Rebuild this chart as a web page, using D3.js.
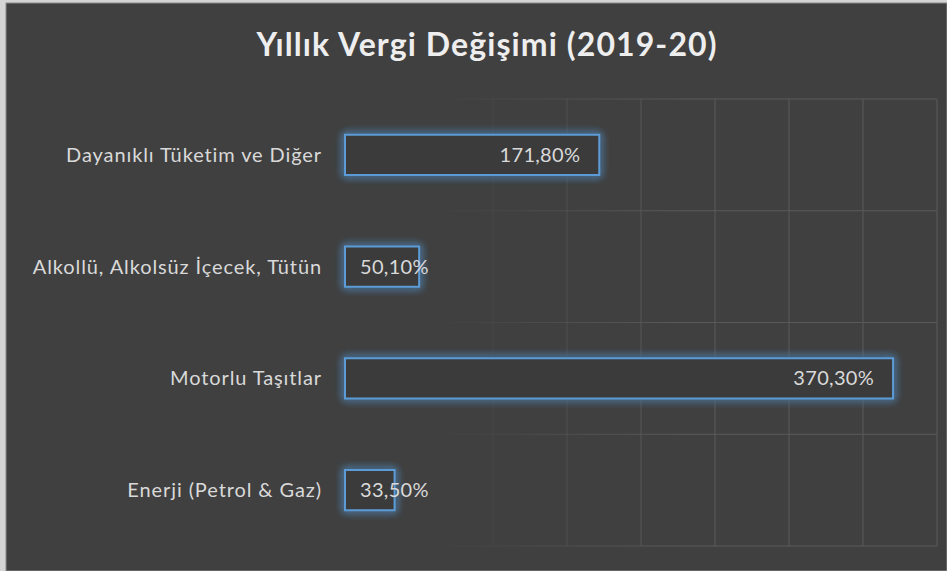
<!DOCTYPE html>
<html>
<head>
<meta charset="utf-8">
<script src="https://cdn.jsdelivr.net/npm/d3@7"></script>
<style>
  body { margin: 0; background: #d4d4d4; }
  svg { display: block; }
</style>
</head>
<body>
<script>
// veriler
const kategoriler = ["Dayanıklı Tüketim ve Diğer", "Alkollü, Alkolsüz İçecek, Tütün", "Motorlu Taşıtlar", "Enerji (Petrol & Gaz)"];
const degerler = [171.8, 50.1, 370.3, 33.5];
const eksenTikleri = [0, 50, 100, 150, 200, 250, 300, 350, 400];
const baslik = "Yıllık Vergi Değişimi (2019-20)";

let width = 947, height = 571;

let svg = d3.select("body").append("svg")
  .attr("width", width)
  .attr("height", height);

// arka plan (sol ve üstte açık kenar)
svg.append("rect").attr("width", width).attr("height", height).attr("fill", "#d4d4d4");
svg.append("rect").attr("x", 6).attr("y", 3).attr("width", width - 6).attr("height", height - 3)
  .attr("fill", "#404040").attr("stroke", "#8a8a8a").attr("stroke-width", 1);

let defs = svg.append("defs");

// ızgara soldan sağa doğru görünür hale geliyor
let grad = defs.append("linearGradient")
  .attr("id", "gridFade")
  .attr("gradientUnits", "userSpaceOnUse")
  .attr("x1", 430).attr("x2", 690).attr("y1", 0).attr("y2", 0);
grad.append("stop").attr("offset", 0).attr("stop-color", "#5a5a5a").attr("stop-opacity", 0);
grad.append("stop").attr("offset", 1).attr("stop-color", "#5a5a5a").attr("stop-opacity", 1);

// çubuklar için mavi parlama
let glow = defs.append("filter").attr("id", "glow")
  .attr("x", "-20%").attr("y", "-60%").attr("width", "140%").attr("height", "220%");
glow.append("feGaussianBlur").attr("in", "SourceGraphic").attr("stdDeviation", 4).attr("result", "blur");
let merge = glow.append("feMerge");
merge.append("feMergeNode").attr("in", "blur");
merge.append("feMergeNode").attr("in", "blur");
merge.append("feMergeNode").attr("in", "SourceGraphic");

let x = d3.scaleLinear().domain([0, 400]).range([345, 937]);
let yGrid = d3.scaleBand().domain(kategoriler).range([99, 546]).padding(0);
let y = d3.scaleBand().domain(kategoriler).range([99, 546])
  .paddingInner(0.64).paddingOuter(0.32);

// dikey ızgara
svg.append("g").selectAll("line")
  .data(eksenTikleri)
  .join("line")
  .attr("x1", d => x(d)).attr("x2", d => x(d))
  .attr("y1", 99).attr("y2", 546)
  .attr("stroke", "url(#gridFade)")
  .attr("stroke-width", 1);

// yatay ızgara (kategori sınırları)
let sinirlar = kategoriler.map(k => yGrid(k)).concat([yGrid.range()[1]]);
svg.append("g").selectAll("line")
  .data(sinirlar)
  .join("line")
  .attr("x1", x(0)).attr("x2", x(400))
  .attr("y1", d => d).attr("y2", d => d)
  .attr("stroke", "url(#gridFade)")
  .attr("stroke-width", 1);

// başlık
svg.append("text")
  .attr("x", 487)
  .attr("y", 56)
  .attr("text-anchor", "middle")
  .attr("font-family", "Lato, 'Open Sans', sans-serif")
  .attr("font-weight", "bold")
  .attr("font-size", 32)
  .attr("letter-spacing", 1.1)
  .attr("fill", "#eeeeee")
  .text(baslik);

// kategori etiketleri
svg.append("g").selectAll("text")
  .data(kategoriler)
  .join("text")
  .attr("x", 322)
  .attr("y", d => y(d) + y.bandwidth() / 2)
  .attr("dy", "0.35em")
  .attr("text-anchor", "end")
  .attr("font-family", "Lato, 'Open Sans', sans-serif")
  .attr("font-size", 20)
  .attr("letter-spacing", 0.9)
  .attr("fill", "#d9d9d9")
  .text(d => d);

let veri = kategoriler.map((k, i) => ({ kategori: k, deger: degerler[i] }));

// çubuklar
svg.append("g").selectAll("rect")
  .data(veri)
  .join("rect")
  .attr("x", x(0))
  .attr("y", d => y(d.kategori))
  .attr("width", d => x(d.deger) - x(0))
  .attr("height", y.bandwidth())
  .attr("fill", "#3b3b3b")
  .attr("stroke", "#5b9bd5")
  .attr("stroke-width", 2)
  .attr("filter", "url(#glow)");

// değer etiketleri (virgüllü ondalık)
let tr = d3.formatLocale({ decimal: ",", thousands: ".", grouping: [3], currency: ["", "₺"] });
let fmt = tr.format(".2f");

let etiketler = svg.append("g").selectAll("text")
  .data(veri)
  .join("text")
  .attr("y", d => y(d.kategori) + y.bandwidth() / 2)
  .attr("dy", "0.35em")
  .attr("text-anchor", "end")
  .attr("font-family", "Lato, 'Open Sans', sans-serif")
  .attr("font-size", 20)
  .attr("letter-spacing", 0.3)
  .attr("fill", "#d9d9d9")
  .text(d => fmt(d.deger) + "%");

// kısa çubuklarda etiket çubuğun başından başlıyor
etiketler.attr("x", function(d) {
  let w = this.getComputedTextLength();
  return Math.max(x(0) + 15 + w, x(d.deger) - 19);
});
</script>
</body>
</html>
